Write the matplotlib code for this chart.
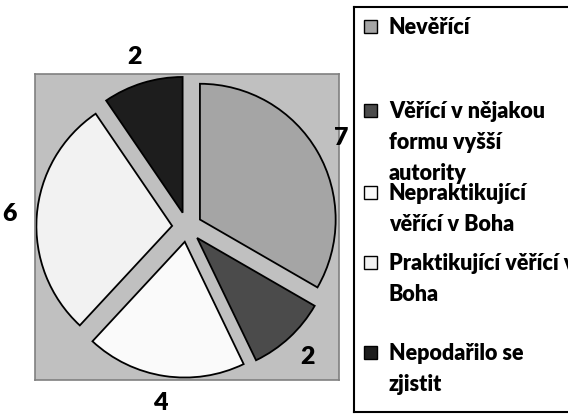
import matplotlib.pyplot as plt
from matplotlib.patches import Rectangle

categories = ['Nevěřící', 'Věřící v nějakou\nformu vyšší\nautority',
              'Nepraktikující\nvěřící v Boha', 'Praktikující věřící v\nBoha',
              'Nepodařilo se\nzjistit']
counts = [7, 2, 4, 6, 2]

colors = ['#a5a5a5', '#4b4b4b', '#fafafa', '#f2f2f2', '#1d1d1d']

plt.rcParams['font.family'] = ['Lato', 'DejaVu Sans']
plt.rcParams['font.weight'] = 'heavy'

W, H = 568, 418
fig = plt.figure(figsize=(W / 100, H / 100), dpi=100)

# pie on the grey square
ax = fig.add_axes([35 / W, (H - 380) / H, 304 / W, 306 / H])
wedges, texts = ax.pie(counts, labels=[str(c) for c in counts], colors=colors,
                       startangle=90, counterclock=False, explode=[0.11] * len(counts),
                       labeldistance=1.2, frame=True,
                       wedgeprops=dict(edgecolor='black', linewidth=1.3),
                       textprops=dict(fontsize=18, fontweight='heavy'))
for t in texts:
    t.set_ha('center')
    t.set_va('center')
ax.set_facecolor('#c0c0c0')
ax.set_aspect('auto')
ax.set_xlim(-1.12, 1.12)
ax.set_ylim(-1.127, 1.127)
ax.set_xticks([])
ax.set_yticks([])
for s in ax.spines.values():
    s.set_color('#808080')
    s.set_linewidth(1.2)

# legend box (drawn by hand so the marker sits on the first line)
lax = fig.add_axes([354 / W, (H - 412) / H, 230 / W, 405 / H])
lax.set_xlim(0, 230)
lax.set_ylim(405, 0)
lax.set_xticks([])
lax.set_yticks([])
for s in lax.spines.values():
    s.set_color('black')
    s.set_linewidth(1.5)

entry_y = [27, 111, 193, 263, 353]
line_step = 31
for name, col, y in zip(categories, colors, entry_y):
    lax.add_patch(Rectangle((10, y - 14), 13, 13, facecolor=col, edgecolor='black', linewidth=1))
    for k, line in enumerate(name.split('\n')):
        lax.text(35, y + k * line_step, line, fontsize=15.5, fontweight='heavy',
                 va='baseline', ha='left')

fig.savefig('out.png', dpi=100)
